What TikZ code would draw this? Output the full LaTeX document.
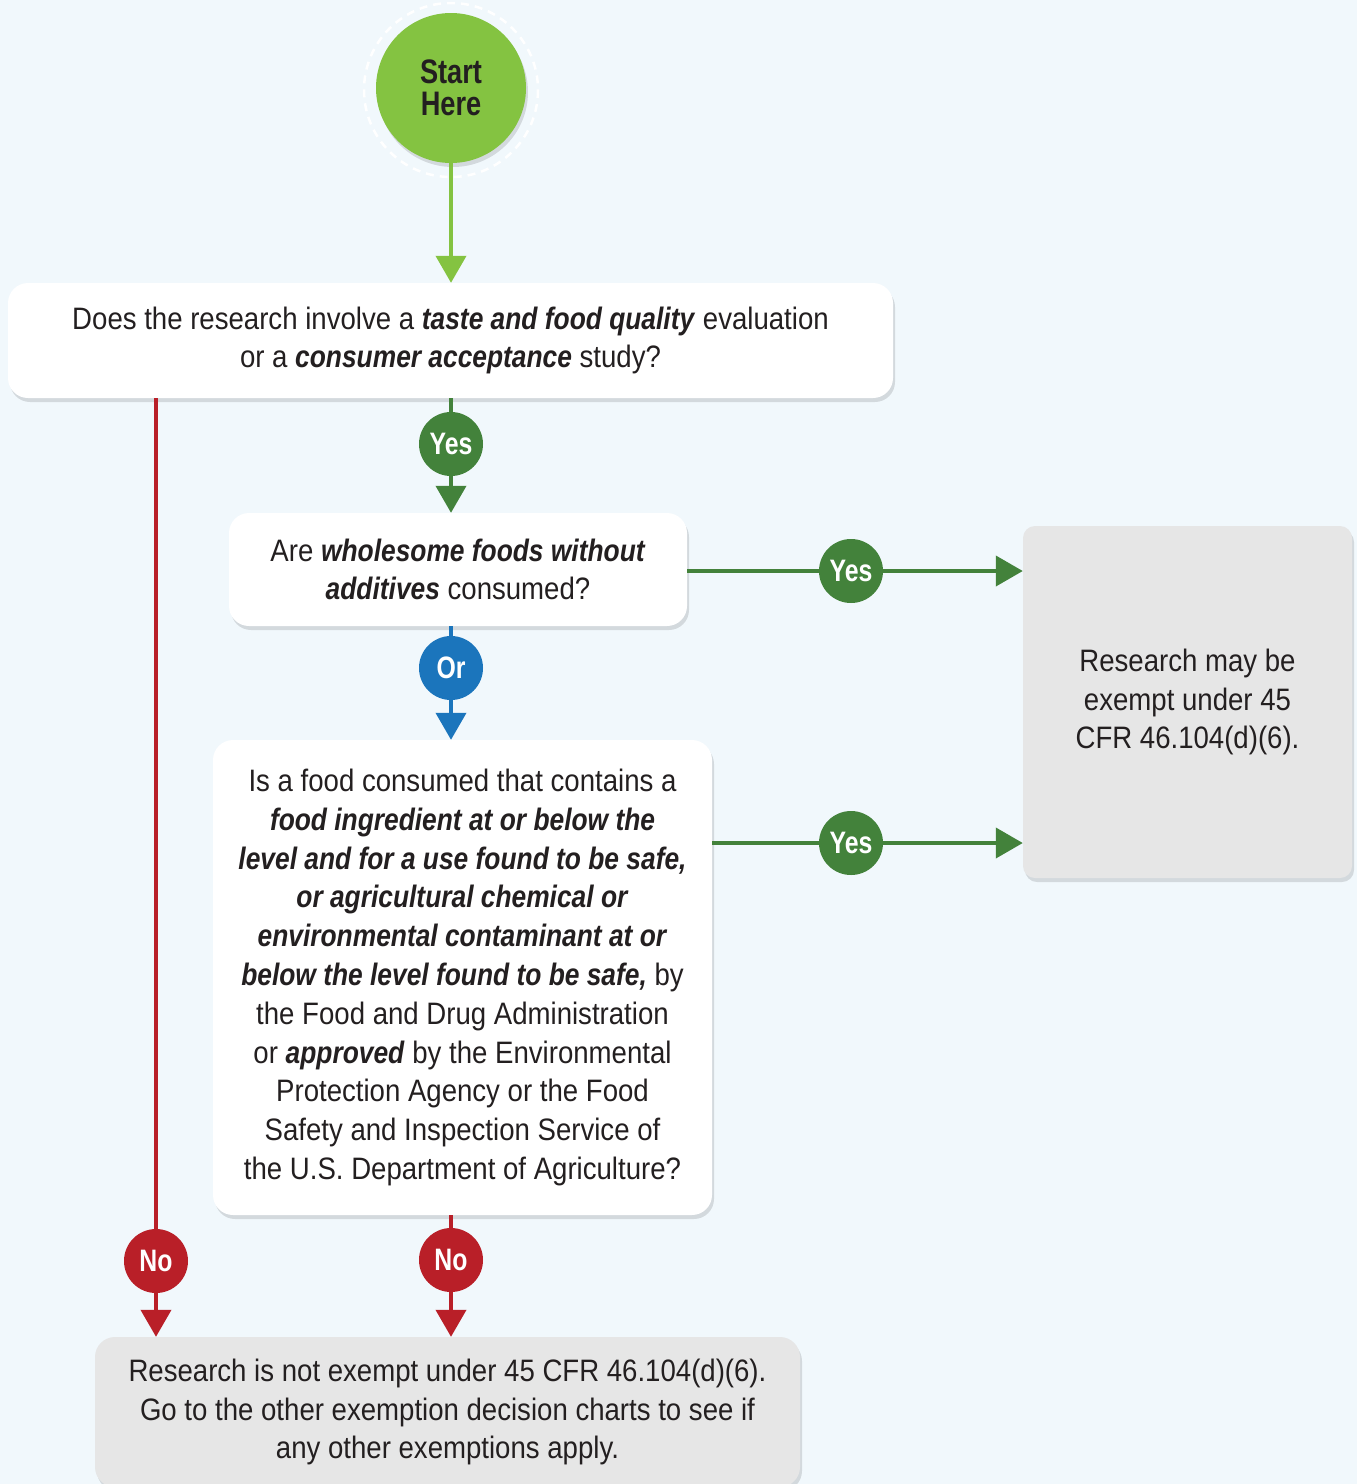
\documentclass[tikz,border=0pt]{standalone}
\usepackage{fontspec}
\setmainfont{Liberation Sans}[FakeStretch=0.89,
  BoldFeatures={FakeStretch=0.8}, BoldItalicFeatures={FakeStretch=0.85}]
\usetikzlibrary{arrows.meta,shadows}
\definecolor{bg}{HTML}{F1F8FC}
\definecolor{lgreen}{HTML}{84C341}
\definecolor{dgreen}{HTML}{43823B}
\definecolor{oblue}{HTML}{1B75BC}
\definecolor{nred}{HTML}{B91F28}
\definecolor{gbox}{HTML}{E6E6E6}
\definecolor{txt}{HTML}{231F20}
\newcommand{\bi}[1]{\textbf{\textit{#1}}}
\begin{document}
\begin{tikzpicture}[x=1pt,y=-1pt,
  qbox/.style={fill=white, rounded corners=20pt, align=center, text=txt, inner sep=0pt,
    font=\fontsize{31pt}{38.8pt}\selectfont,
    drop shadow={shadow xshift=2pt, shadow yshift=-4pt, opacity=0.12, fill=black}},
  rbox/.style={qbox, fill=gbox, rounded corners=12pt},
  tag/.style={circle, minimum size=64pt, inner sep=0pt, text=white,
    font=\fontsize{31pt}{32pt}\selectfont\bfseries},
  conn/.style={line width=4pt},
  arr/.style={conn, -{Triangle[width=30pt,length=27pt]}}
]
\fill[bg] (0,0) rectangle (1357,1484);
\clip (0,0) rectangle (1357,1484);
\useasboundingbox (0,0) rectangle (1357,1484);

% start
\draw[white, line width=2.5pt, dash pattern=on 8pt off 6pt] (451,90) circle (87);
\node[circle, fill=lgreen, minimum size=150pt, inner sep=0pt, align=center, text=txt,
  font=\fontsize{34pt}{48pt}\selectfont\bfseries,
  drop shadow={shadow xshift=2pt, shadow yshift=-4pt, opacity=0.12, fill=black}]
  (start) at (451,88) {Start\\[-16pt]Here};

% boxes
\node[qbox, minimum width=885pt, minimum height=115pt] (q1) at (450.5,340.5)
  {Does the research involve a \bi{taste and food quality} evaluation\\or a \bi{consumer acceptance} study?};
\node[qbox, minimum width=458pt, minimum height=113pt] (q2) at (458,569.5)
  {Are \bi{wholesome foods without}\\\bi{additives} consumed?};
\node[qbox, minimum width=499pt, minimum height=475pt] (q3) at (462.5,977.5)
  {Is a food consumed that contains a\\
   \bi{food ingredient at or below the}\\
   \bi{level and for a use found to be safe,}\\
   \bi{or agricultural chemical or}\\
   \bi{environmental contaminant at or}\\
   \bi{below the level found to be safe,} by\\
   the Food and Drug Administration\\
   or \bi{approved} by the Environmental\\
   Protection Agency or the Food\\
   Safety and Inspection Service of\\
   the U.S. Department of Agriculture?};
\node[rbox, minimum width=329pt, minimum height=352pt] (yesbox) at (1187.5,702)
  {Research may be\\exempt under 45\\CFR 46.104(d)(6).};
\node[rbox, minimum width=705pt, minimum height=150pt, rounded corners=20pt] (nobox) at (447.5,1412)
  {Research is not exempt under 45 CFR 46.104(d)(6).\\Go to the other exemption decision charts to see if\\any other exemptions apply.};

% tags
\node[tag, fill=dgreen] (y1) at (451,444) {Yes};
\node[tag, fill=dgreen] (y2) at (851,571) {Yes};
\node[tag, fill=oblue] (or) at (451,668) {Or};
\node[tag, fill=dgreen] (y3) at (851,843) {Yes};
\node[tag, fill=nred] (n1) at (156,1261) {No};
\node[tag, fill=nred] (n2) at (451,1260) {No};

% connectors
\draw[arr, lgreen] (start.south) -- (q1.north -| start);
\draw[conn, dgreen] (q1.south -| y1) -- (y1);
\draw[arr, dgreen] (y1) -- (q2.north -| y1);
\draw[conn, dgreen] (q2.east |- y2) -- (y2);
\draw[arr, dgreen] (y2) -- (yesbox.west |- y2);
\draw[conn, oblue] (q2.south -| or) -- (or);
\draw[arr, oblue] (or) -- (q3.north -| or);
\draw[conn, dgreen] (q3.east |- y3) -- (y3);
\draw[arr, dgreen] (y3) -- (yesbox.west |- y3);
\draw[conn, nred] (q1.south -| n1) -- (n1);
\draw[arr, nred] (n1) -- (nobox.north -| n1);
\draw[conn, nred] (q3.south -| n2) -- (n2);
\draw[arr, nred] (n2) -- (nobox.north -| n2);
\end{tikzpicture}
\end{document}
